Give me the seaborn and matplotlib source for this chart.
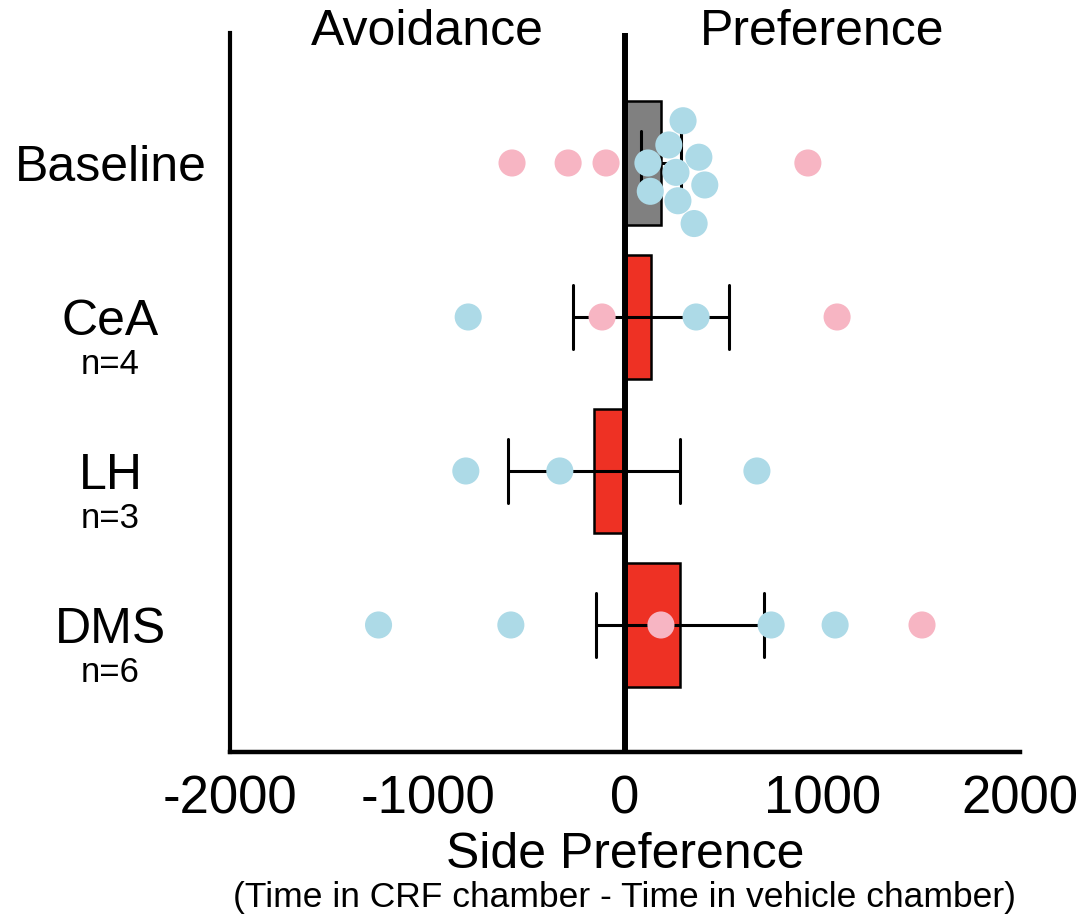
import numpy as np
import pandas as pd
import matplotlib
matplotlib.use("Agg")
import matplotlib.pyplot as plt
import seaborn as sns

# Side-preference scores (s) per group, split by sex
groups = ["Baseline", "CeA", "LH", "DMS"]
group_n = {"CeA": "n=4", "LH": "n=3", "DMS": "n=6"}

baseline_female = [-572, -288, -96, 926]
baseline_male = [116, 128, 222, 258, 268, 294, 350, 374, 404]
cea_female = [-116, 1074]
cea_male = [-794, 360]
lh_female = []
lh_male = [-806, -330, 668]
dms_female = [182, 1504]
dms_male = [-1248, -578, 740, 1064]

xticks = [-2000, -1000, 0, 1000, 2000]

records = []
for g, fem, mal in [("Baseline", baseline_female, baseline_male),
                    ("CeA", cea_female, cea_male),
                    ("LH", lh_female, lh_male),
                    ("DMS", dms_female, dms_male)]:
    records += [(g, v, "F") for v in fem]
    records += [(g, v, "M") for v in mal]
df = pd.DataFrame(records, columns=["group", "score", "sex"])

sns.set_theme(style="white")
plt.rcParams["font.family"] = ["Liberation Sans", "DejaVu Sans"]

bar_colors = {"Baseline": "#808080", "CeA": "#EE3124", "LH": "#EE3124", "DMS": "#EE3124"}
dot_colors = {"F": "#F7B5C3", "M": "#ADDAE7"}

fig = plt.figure(figsize=(10.83, 9.17), dpi=100)
ax = fig.add_axes([0.2124, 0.1799, 0.7294, 0.7841])

sns.barplot(data=df, x="score", y="group", hue="group", order=groups,
            palette=bar_colors, saturation=1, legend=False, orient="h",
            width=0.8, errorbar="se", capsize=0.42, edgecolor="black",
            linewidth=1.8, err_kws={"color": "black", "linewidth": 2.2}, ax=ax)

ax.axvline(0, color="black", linewidth=4.3, zorder=2.5)

sns.swarmplot(data=df, x="score", y="group", hue="sex", order=groups,
              palette=dot_colors, legend=False, orient="h", size=19.5,
              linewidth=0, ax=ax, zorder=3)

ax.set_xlim(-2000, 2000)
ax.set_ylim(3.825, -0.844)

for side in ["top", "right"]:
    ax.spines[side].set_visible(False)
ax.spines["left"].set_linewidth(3.0)
ax.spines["bottom"].set_linewidth(3.2)
ax.spines["left"].set_color("black")
ax.spines["bottom"].set_color("black")

ax.set_xticks(xticks)
ax.set_xticklabels([str(t) for t in xticks])
ax.tick_params(axis="x", length=0, pad=16, labelsize=38, colors="black")
ax.set_yticks(range(len(groups)))
ax.set_yticklabels(groups)
ax.tick_params(axis="y", length=0, pad=86, labelsize=36, colors="black")
for lbl in ax.get_yticklabels():
    lbl.set_horizontalalignment("center")

ax.set_xlabel("")
ax.set_ylabel("")

ytr = ax.get_yaxis_transform()
for i, g in enumerate(groups):
    if g in group_n:
        ax.text(-0.152, i + 0.31, group_n[g], transform=ytr, ha="center",
                va="center", fontsize=25, color="black", clip_on=False)

xtr = ax.get_xaxis_transform()
ax.text(-1000, 0.983, "Avoidance", transform=xtr, ha="center",
        va="baseline", fontsize=36, color="black", clip_on=False)
ax.text(1000, 0.983, "Preference", transform=xtr, ha="center",
        va="baseline", fontsize=36, color="black", clip_on=False)

ax.text(0.5, -0.1613, "Side Preference", transform=ax.transAxes, ha="center",
        va="baseline", fontsize=36, color="black")
ax.text(0.5, -0.2156, "(Time in CRF chamber - Time in vehicle chamber)",
        transform=ax.transAxes, ha="center", va="baseline", fontsize=25.5,
        color="black")

fig.savefig("out.png", dpi=100)
